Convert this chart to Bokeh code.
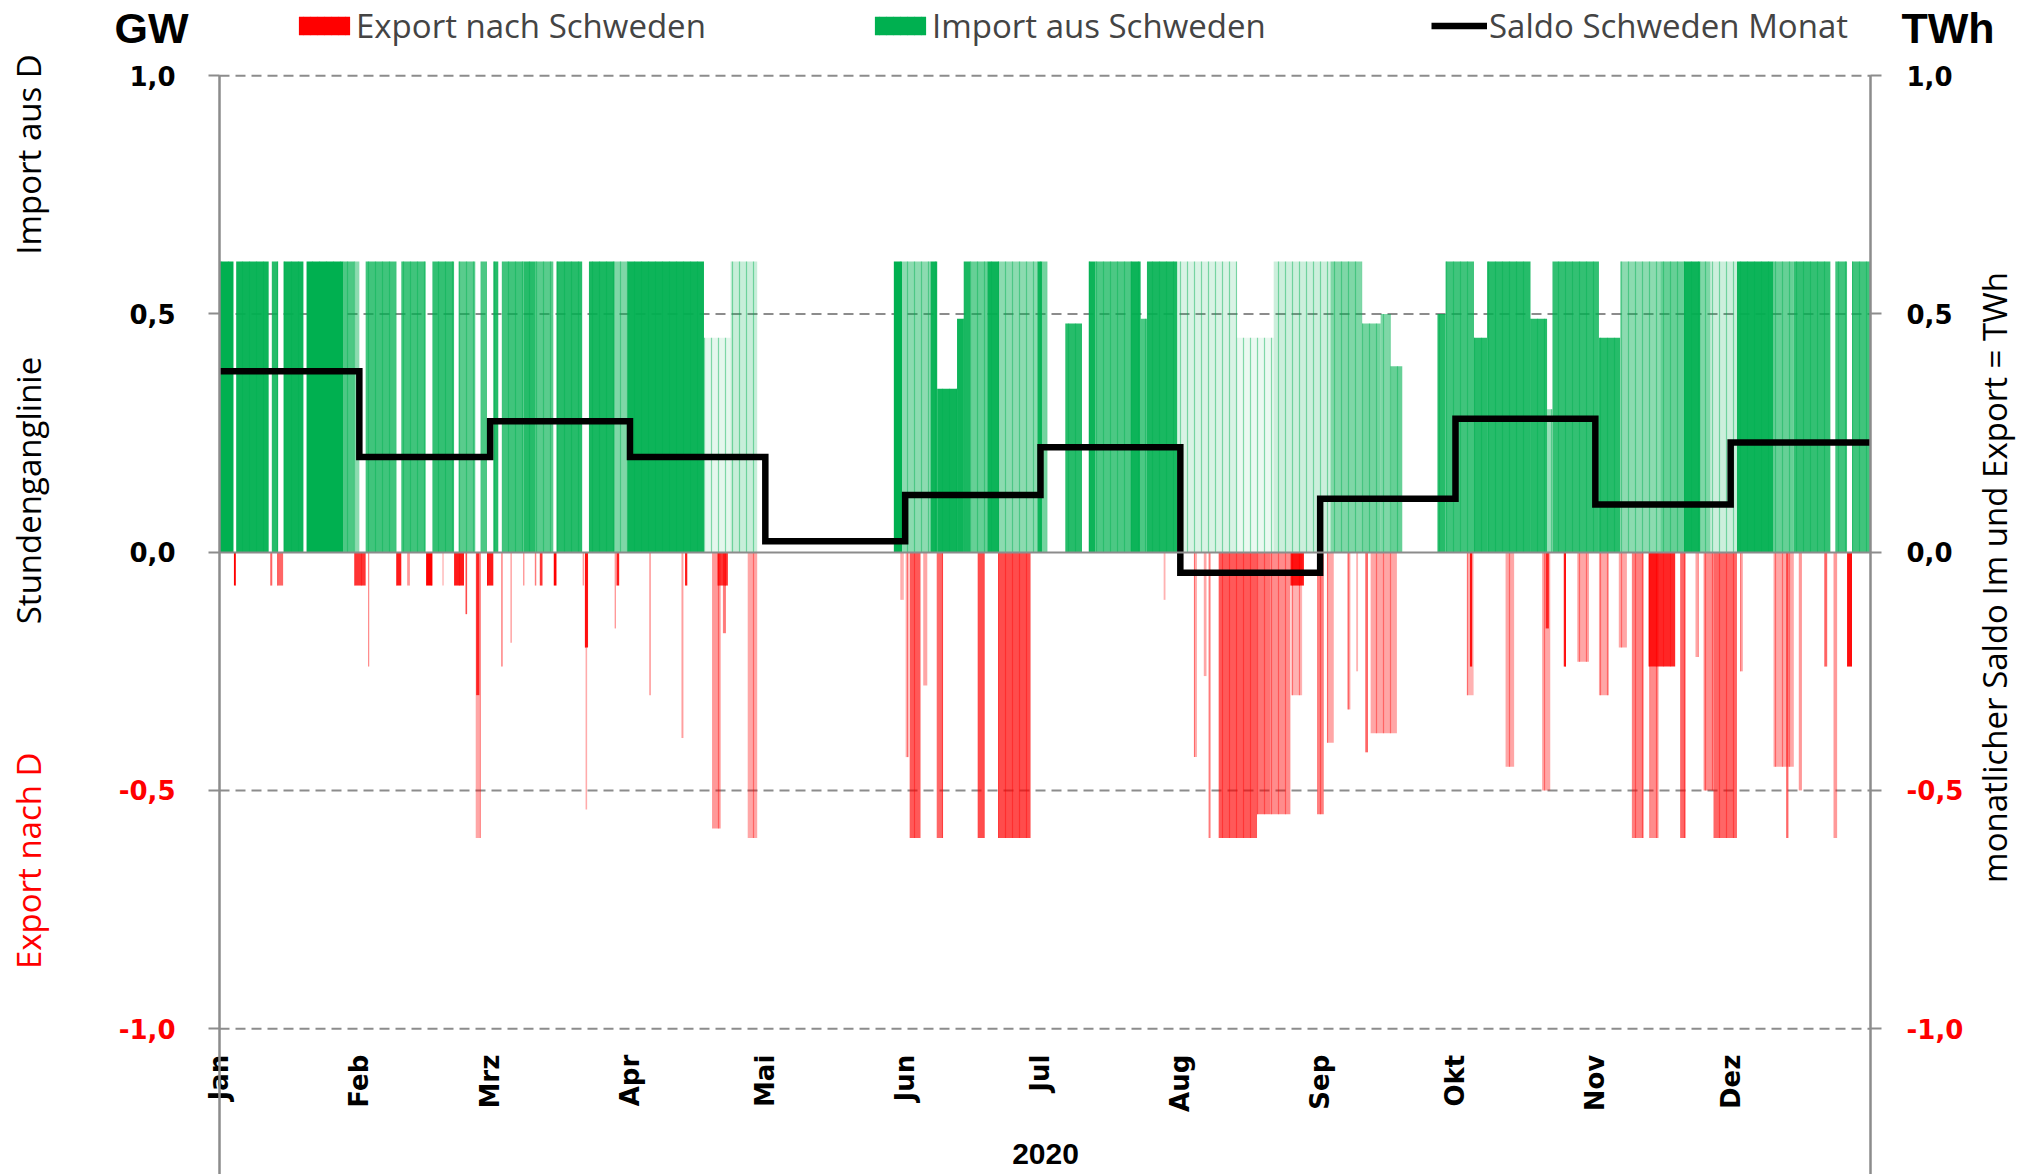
from math import pi
from bokeh.plotting import figure
from bokeh.models import (Range1d, LinearAxis, FixedTicker, CustomJSTickFormatter,
                          Legend, LegendItem, Label, ColumnDataSource)
from bokeh.embed import file_html
from bokeh.resources import INLINE

# ---------------- data ----------------
months = ["Jan", "Feb", "Mrz", "Apr", "Mai", "Jun", "Jul", "Aug", "Sep", "Okt", "Nov", "Dez"]
month_start_day = [0, 31, 60, 91, 121, 152, 182, 213, 244, 274, 305, 335]
year_end_day = 366
year_label = "2020"
gw_ticks_pos = [0.0, 0.5, 1.0]
gw_ticks_neg = [-1.0, -0.5]
saldo_twh = [0.38, 0.20, 0.275, 0.20, 0.023, 0.12, 0.22, -0.043, 0.112, 0.28, 0.10, 0.23]

# import from Sweden: runs of hours (day of year), level in GW, share of hours importing
imp_start = [0.0, 3.7, 11.6, 14.2, 19.3, 27.5, 29.9, 32.4, 40.3, 47.2, 53.0, 57.9, 60.7, 62.6, 67.4, 70.1,
             74.7, 81.9, 87.6, 90.4, 107.4, 113.3, 149.5, 151.3, 157.6, 159.1, 163.5, 165.0, 166.5, 170.2,
             172.8, 181.3, 182.4, 187.5, 192.7, 194.2, 201.9, 204.2, 205.6, 212.3, 225.6, 233.7, 246.3,
             253.3, 257.4, 259.6, 270.0, 271.8, 278.1, 281.0, 290.6, 294.3, 295.5, 305.8, 310.5, 319.4,
             324.6, 328.3, 330.5, 336.4, 344.5, 349.0, 358.2, 361.9]
imp_end = [3.1, 10.9, 13.0, 18.6, 27.5, 29.9, 31.0, 39.2, 45.7, 52.0, 56.7, 59.3, 61.8, 67.4, 70.1, 74.0,
           80.4, 87.6, 90.4, 107.4, 113.3, 119.2, 151.3, 157.6, 159.1, 163.5, 165.0, 166.5, 170.2, 172.8,
           181.3, 182.4, 183.5, 191.2, 194.2, 201.9, 204.2, 205.6, 212.3, 225.6, 233.7, 246.3, 253.3,
           257.4, 259.6, 262.2, 271.8, 278.1, 281.0, 290.6, 294.3, 295.5, 305.8, 310.5, 319.4, 324.6,
           328.3, 330.5, 336.4, 344.5, 349.0, 357.1, 360.8, 366.0]
imp_gw = [0.61, 0.61, 0.61, 0.61, 0.61, 0.61, 0.61, 0.61, 0.61, 0.61, 0.61, 0.61, 0.61, 0.61, 0.61, 0.61,
          0.61, 0.61, 0.61, 0.61, 0.45, 0.61, 0.61, 0.61, 0.61, 0.343, 0.49, 0.61, 0.61, 0.61,
          0.61, 0.61, 0.61, 0.48, 0.61, 0.61, 0.61, 0.49, 0.61, 0.61, 0.45, 0.61, 0.61,
          0.48, 0.50, 0.39, 0.50, 0.61, 0.45, 0.61, 0.49, 0.30, 0.61, 0.45, 0.61, 0.61,
          0.61, 0.61, 0.61, 0.61, 0.61, 0.61, 0.61, 0.61]
imp_share = [1.0, 0.95, 0.85, 0.95, 1.0, 0.7, 0.45, 0.75, 0.75, 0.8, 0.65, 0.7, 0.85, 0.75, 0.85, 0.65,
             0.85, 0.9, 0.5, 0.95, 0.1, 0.22, 1.0, 0.45, 0.95, 0.95, 0.95, 0.9, 0.6, 0.95,
             0.45, 0.95, 0.55, 0.85, 0.95, 0.7, 0.95, 0.7, 0.9, 0.15, 0.08, 0.2, 0.5,
             0.55, 0.5, 0.6, 0.85, 0.75, 0.85, 0.85, 0.85, 0.4, 0.8, 0.85, 0.45, 0.6,
             0.95, 0.5, 0.2, 0.95, 0.6, 0.8, 0.75, 0.75]

# export to Sweden: runs of hours (day of year), level in GW (negative), share of hours exporting
exp_start = [3.2, 11.3, 12.8, 29.9, 33.0, 39.2, 41.6, 45.8, 49.4, 52.0, 54.5, 56.8, 56.9, 59.3, 62.5, 64.5,
             67.3, 69.9, 71.0, 74.1, 80.5, 81.0, 81.2, 87.6, 88.0, 95.3, 102.4, 103.2, 109.2, 110.4, 111.6,
             117.1, 151.0, 152.1, 153.0, 156.0, 159.0, 168.1, 172.6, 209.3, 216.0, 218.2, 219.3, 221.5,
             230.0, 233.0, 237.4, 237.6, 243.3, 245.5, 250.0, 252.0, 254.0, 255.2, 277.2, 276.5, 285.1,
             293.2, 294.0, 298.0, 301.0, 305.8, 310.2, 313.1, 316.8, 317.0, 323.8, 327.2, 329.0, 331.2,
             337.1, 344.5, 347.3, 350.1, 355.8, 357.8, 360.8]
exp_end = [3.6, 11.7, 14.1, 32.4, 33.2, 40.3, 42.2, 47.2, 49.7, 54.2, 54.9, 57.9, 57.6, 60.7, 62.8, 64.8,
           67.6, 70.2, 71.6, 74.7, 80.8, 81.7, 81.5, 87.9, 88.6, 95.6, 102.8, 103.7, 111.1, 112.7, 112.2,
           119.2, 151.7, 152.8, 155.4, 156.9, 160.4, 169.6, 179.8, 209.7, 216.7, 218.8, 219.7, 230.0,
           233.0, 237.4, 240.4, 240.0, 244.8, 247.0, 250.7, 252.4, 254.6, 261.0, 277.7, 278.0, 287.0,
           295.0, 294.7, 298.5, 303.6, 308.0, 312.0, 315.7, 322.7, 319.0, 325.0, 327.9, 331.2, 336.4,
           337.7, 349.0, 347.8, 350.8, 356.4, 358.6, 361.9]
exp_gw = [-0.07, -0.07, -0.07, -0.07, -0.24, -0.07, -0.07, -0.07, -0.07, -0.07, -0.13, -0.6, -0.3, -0.07, -0.24, -0.19,
          -0.07, -0.07, -0.07, -0.07, -0.07, -0.2, -0.54, -0.16, -0.07, -0.3, -0.39, -0.07, -0.58, -0.07, -0.17,
          -0.6, -0.1, -0.43, -0.6, -0.28, -0.6, -0.6, -0.6, -0.1, -0.43, -0.26, -0.6, -0.6,
          -0.55, -0.55, -0.07, -0.3, -0.55, -0.4, -0.33, -0.25, -0.42, -0.38, -0.24, -0.3, -0.45,
          -0.5, -0.16, -0.24, -0.23, -0.3, -0.2, -0.6, -0.24, -0.6, -0.6, -0.22, -0.5, -0.6,
          -0.25, -0.45, -0.6, -0.5, -0.24, -0.6, -0.24]
exp_share = [1.0, 0.6, 0.6, 0.8, 0.4, 0.9, 0.4, 1.0, 0.3, 0.9, 0.5, 0.35, 0.8, 0.9, 0.4, 0.4,
             0.4, 0.5, 0.8, 1.0, 0.4, 0.9, 0.3, 0.4, 0.9, 0.45, 0.35, 0.9, 0.4, 0.8, 0.5,
             0.35, 0.3, 0.3, 0.65, 0.35, 0.6, 0.7, 0.7, 0.3, 0.3, 0.35, 0.5, 0.65,
             0.55, 0.45, 0.9, 0.3, 0.5, 0.35, 0.35, 0.3, 0.6, 0.35, 0.9, 0.3, 0.35,
             0.35, 0.8, 0.9, 0.35, 0.35, 0.35, 0.5, 0.85, 0.45, 0.6, 0.35, 0.45, 0.6,
             0.35, 0.35, 0.6, 0.4, 0.6, 0.4, 0.95]

# ---------------- layout (page pixels) ----------------
W, H = 2025, 1174
PX_LEFT, PX_RIGHT = 219.0, 1870.0     # day 0 / day 366
PX_P1, PX_M1 = 75.2, 1028.2           # +1,0 / -1,0
PX_PER_DAY = (PX_RIGHT - PX_LEFT) / year_end_day
PX_PER_GW = (PX_M1 - PX_P1) / 2.0


def X(px):
    return (px - PX_LEFT) / PX_PER_DAY


def Y(py):
    return 1.0 - (py - PX_P1) / PX_PER_GW


GREEN = "#00B050"
RED = "#FF0000"
GRAY = "#8c8c8c"

# the frame covers the whole canvas so nothing outside the plot area gets clipped
p = figure(width=W, height=H, output_backend="svg", toolbar_location=None,
           x_range=Range1d(X(0), X(W)), y_range=Range1d(Y(H), Y(0)),
           x_axis_type=None, y_axis_type=None,
           min_border_left=0, min_border_right=0, min_border_top=0, min_border_bottom=0)
p.outline_line_color = None
p.background_fill_color = "white"
p.border_fill_color = "white"

# dashed grid lines at the value-axis ticks (drawn between the two vertical axes)
grid_vals = gw_ticks_neg + gw_ticks_pos[1:]
p.segment(x0=[0] * len(grid_vals), x1=[year_end_day] * len(grid_vals), y0=grid_vals, y1=grid_vals,
          line_color=GRAY, line_width=2, line_dash="10 6")

# hourly flows
src_imp = ColumnDataSource(dict(left=imp_start, right=imp_end, top=imp_gw,
                                bottom=[0.0] * len(imp_gw), share=imp_share))
src_exp = ColumnDataSource(dict(left=exp_start, right=exp_end, top=[0.0] * len(exp_gw),
                                bottom=exp_gw, share=exp_share))
r_imp = p.quad(left="left", right="right", top="top", bottom="bottom", source=src_imp,
               fill_color=GREEN, fill_alpha="share", line_color=None,
               hatch_pattern="|", hatch_color=GREEN, hatch_alpha=0.45, hatch_scale=7, hatch_weight=1.2)
r_exp = p.quad(left="left", right="right", top="top", bottom="bottom", source=src_exp,
               fill_color=RED, fill_alpha="share", line_color=None,
               hatch_pattern="|", hatch_color=RED, hatch_alpha=0.4, hatch_scale=7, hatch_weight=1.2)

# horizontal category axis line at 0
zero_axis = LinearAxis(ticker=FixedTicker(ticks=[]), fixed_location=0.0, bounds=(0, year_end_day),
                       axis_line_color=GRAY, axis_line_width=2, major_tick_line_color=None,
                       minor_tick_line_color=None, major_label_text_font_size="0px")
p.add_layout(zero_axis, "below")

# monthly saldo step line
r_saldo = p.step(x=month_start_day + [year_end_day], y=saldo_twh + [saldo_twh[-1]], mode="after",
                 line_color="black", line_width=6.5, line_join="miter")

# value axes (left GW / right TWh), black for >= 0, red for < 0
fmt = CustomJSTickFormatter(code="return tick.toFixed(1).replace('.', ',');")


def add_yaxis(ticks, color, side, loc, standoff):
    ax = LinearAxis(ticker=FixedTicker(ticks=ticks), formatter=fmt, fixed_location=loc,
                    bounds=(Y(H), 1.0),
                    axis_line_color=GRAY, axis_line_width=2,
                    major_tick_line_color=GRAY, major_tick_line_width=2,
                    major_tick_in=0, major_tick_out=11, minor_tick_line_color=None,
                    major_label_text_color=color, major_label_text_font="DejaVu Sans",
                    major_label_text_font_style="bold", major_label_text_font_size="26px",
                    major_label_standoff=standoff)
    p.add_layout(ax, side)


add_yaxis(gw_ticks_pos, "black", "left", 0, 33)
add_yaxis(gw_ticks_neg, RED, "left", 0, 33)
add_yaxis(gw_ticks_pos, "black", "right", year_end_day, 25)
add_yaxis(gw_ticks_neg, RED, "right", year_end_day, 25)

# month axis
xax = LinearAxis(ticker=FixedTicker(ticks=month_start_day),
                 major_label_overrides={d: m for d, m in zip(month_start_day, months)},
                 fixed_location=-1.0, axis_line_color=None, major_tick_line_color=None,
                 minor_tick_line_color=None, major_label_orientation=pi / 2,
                 major_label_standoff=20, major_label_text_font="DejaVu Sans",
                 major_label_text_font_style="bold", major_label_text_font_size="26px",
                 major_label_text_color="black")
p.add_layout(xax, "below")


# legends (one per entry, placed like the reference); area glyphs are inset 10 % by Bokeh
def add_legend(label, renderer, x_px, glyph_w, glyph_h, standoff):
    lg = Legend(items=[LegendItem(label=label, renderers=[renderer])],
                location=(x_px, H - 48), orientation="horizontal",
                glyph_width=glyph_w, glyph_height=glyph_h, label_standoff=standoff,
                label_text_font="Open Sans", label_text_font_size="33px",
                padding=0, margin=0, spacing=0, border_line_color=None,
                background_fill_alpha=0)
    p.add_layout(lg)


add_legend("Export nach Schweden", r_exp, 292, 64, 23, 0)
add_legend("Import aus Schweden", r_imp, 868, 64, 23, 0)
add_legend("Saldo Schweden Monat", r_saldo, 1431, 56, 23, 2)


# texts
def add_text(txt, px, py, size, color="black", bold=False, angle=0.0, align="left",
             font="Open Sans"):
    p.add_layout(Label(x=X(px), y=Y(py), text=txt, text_font=font, text_font_size=size,
                       text_font_style="bold" if bold else "normal", text_color=color,
                       angle=angle, text_align=align, text_baseline="middle"))


add_text("GW", 114, 27, "43px", bold=True, font="Liberation Sans")
add_text("TWh", 1901, 27, "43px", bold=True, font="Liberation Sans")
add_text("Import aus D", 28, 154, "33px", angle=pi / 2, align="center")
add_text("Stundenganglinie", 28, 490, "33px", angle=pi / 2, align="center")
add_text("Export nach  D", 28, 856, "33px", color=RED, angle=pi / 2, align="center")
add_text("monatlicher Saldo Im und Export = TWh", 1994, 577, "33px", angle=pi / 2, align="center")
add_text(year_label, 1045, 1153, "30px", bold=True, align="center", font="Liberation Sans")

open("out.html", "w").write(file_html(p, INLINE))
